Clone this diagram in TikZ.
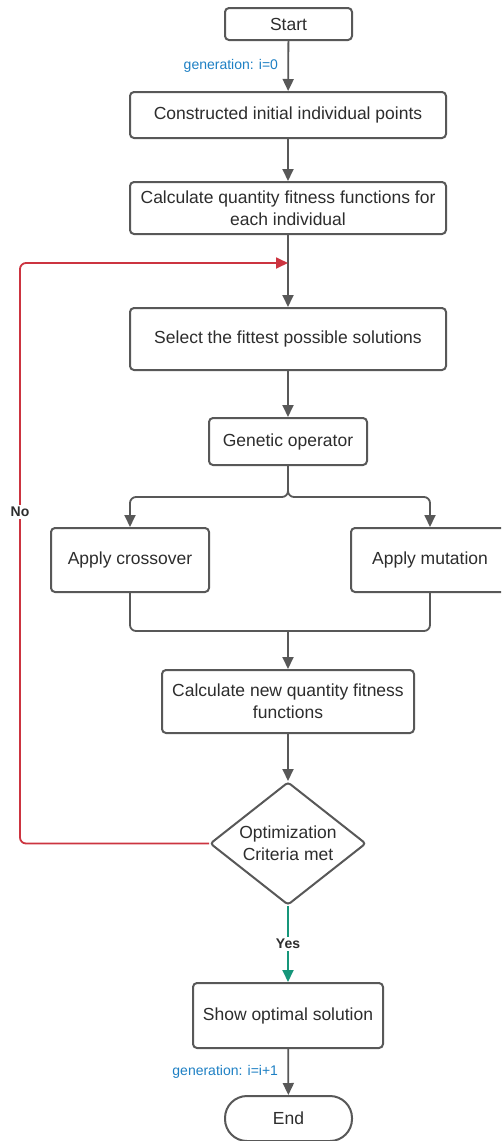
\documentclass[tikz,border=0pt]{standalone}
\usepackage{fontspec}
\setmainfont{Liberation Sans}
\usetikzlibrary{arrows.meta,shapes.geometric}
\definecolor{linegray}{RGB}{88,88,88}
\definecolor{txtgray}{RGB}{45,45,45}
\definecolor{noRed}{RGB}{204,52,64}
\definecolor{yesTeal}{RGB}{22,150,122}
\definecolor{lblBlue}{RGB}{30,128,196}
\tikzset{
  box/.style={draw=linegray, line width=2pt, rounded corners=4pt, align=center, text=txtgray, font=\fontsize{17.5}{22}\selectfont, inner sep=2pt},
  conn/.style={draw=linegray, line width=1.8pt},
  arr/.style={conn, -{Triangle[length=12pt,width=11pt]}},
  redarr/.style={draw=noRed, line width=1.8pt, rounded corners=6pt, -{Triangle[length=12pt,width=11pt]}},
  tealarr/.style={draw=yesTeal, line width=1.8pt, -{Triangle[length=12pt,width=11pt]}},
  genlbl/.style={text=lblBlue, font=\fontsize{14}{16}\selectfont},
  boldlbl/.style={text=txtgray, font=\fontsize{14}{16}\selectfont\bfseries, fill=white, inner sep=2pt}
}
\begin{document}
\begin{tikzpicture}[x=1pt,y=-1pt]
\clip (0,0) rectangle (501,1141);
\fill[white] (0,0) rectangle (501,1141);
\node[box, minimum width=127pt, minimum height=32pt] (start) at (288.5,24) {Start};
\node[box, minimum width=316pt, minimum height=46pt] (cons) at (288,115) {Constructed initial individual points};
\node[box, minimum width=316pt, minimum height=52pt] (calc) at (288,208) {Calculate quantity fitness functions for\\each individual};
\node[box, minimum width=316pt, minimum height=62pt] (sel) at (288,339) {Select the fittest possible solutions};
\node[box, minimum width=158pt, minimum height=47pt] (gen) at (288,441.5) {Genetic operator};
\node[box, minimum width=158pt, minimum height=64pt] (cross) at (130,560) {Apply crossover};
\node[box, minimum width=158pt, minimum height=64pt] (mut) at (430,560) {Apply mutation};
\node[box, minimum width=252pt, minimum height=63pt] (newc) at (288,701.5) {Calculate new quantity fitness\\functions};
\node[draw=linegray, line width=2pt, diamond, aspect=1.27, minimum width=156pt, minimum height=123pt, inner sep=0pt, align=center, text=txtgray, font=\fontsize{17.5}{22}\selectfont, rounded corners=3pt] (dia) at (288,843.5) {Optimization\\Criteria met};
\node[box, minimum width=190pt, minimum height=65pt] (show) at (288,1015.5) {Show optimal solution};
\node[box, minimum width=127pt, minimum height=45pt, rounded corners=22pt] (end) at (288.5,1118.5) {End};

\coordinate (loop) at (288,263);
\coordinate (split) at (288,497);
\coordinate (merge) at (288,631);
\coordinate (nl) at (20,843.5);
\coordinate (nu) at (20,263);

\draw[arr] (start) -- (cons) node[midway, left=6pt, genlbl] (g0) {generation: i=0};
\draw[arr] (cons) -- (calc);
\draw[arr] (calc) -- (sel);
\draw[arr] (sel) -- (gen);
\draw[arr, rounded corners=6pt] (gen.south) -- (split) -| (cross.north);
\draw[arr, rounded corners=6pt] (gen.south) -- (split) -| (mut.north);
\draw[conn, rounded corners=6pt] (cross.south) |- (merge);
\draw[conn, rounded corners=6pt] (mut.south) |- (merge);
\draw[arr] (merge) -- (newc.north);
\draw[arr] (newc) -- (dia.north);
\draw[redarr] (dia.west) -- (nl) -- (nu) -- (loop);
\node[boldlbl] (no) at (20,512) {No};
\draw[tealarr] (dia.south) -- (show.north) node[midway, boldlbl] (yes) {Yes};
\draw[arr] (show) -- (end) node[midway, left=6pt, genlbl] (g1) {generation: i=i+1};
\end{tikzpicture}
\end{document}
